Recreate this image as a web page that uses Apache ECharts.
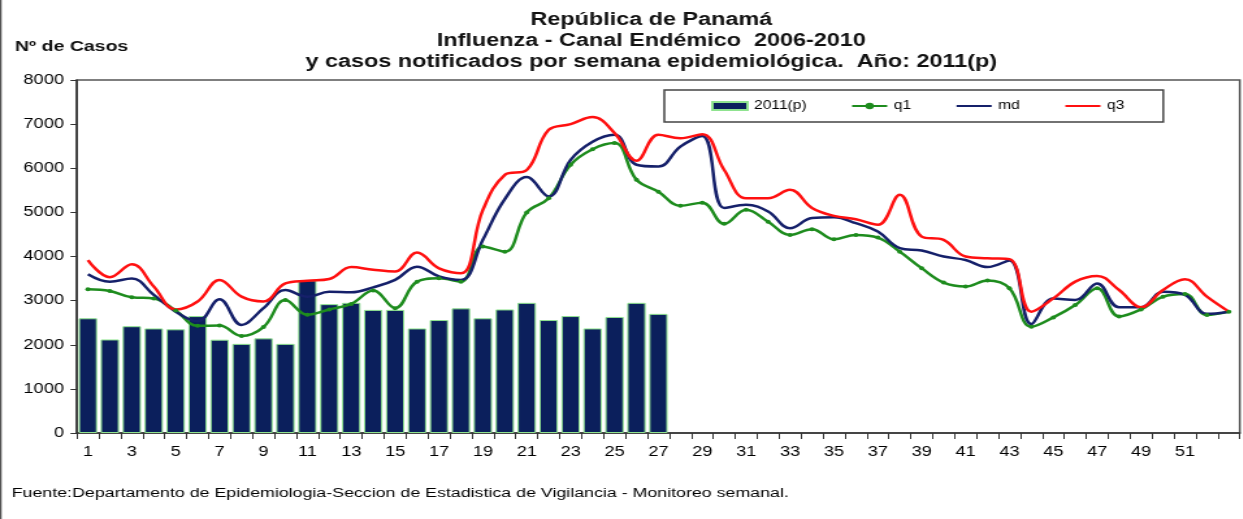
<!DOCTYPE html>
<html>
<head>
<meta charset="utf-8">
<script src="https://cdn.jsdelivr.net/npm/echarts@6/dist/echarts.min.js"></script>
<style>
  html, body { margin: 0; padding: 0; background: #fff; overflow: hidden; }
  /* el grafico original viene estirado a lo ancho (~1.3x), lo imitamos igual */
  #chart { width: 956px; height: 519px; transform: scaleX(1.3); transform-origin: 0 0; }
</style>
</head>
<body>
<div id="chart"></div>
<script>
const semanas = ['1','2','3','4','5','6','7','8','9','10','11','12','13','14','15','16','17','18',
  '19','20','21','22','23','24','25','26','27','28','29','30','31','32','33','34','35','36',
  '37','38','39','40','41','42','43','44','45','46','47','48','49','50','51','52','53']

// casos notificados 2011 (p), semanas 1-27
const casos2011 = [2600, 2120, 2420, 2370, 2350, 2650, 2115, 2020, 2145, 2020, 3460, 2920, 2950,
  2790, 2790, 2370, 2560, 2825, 2600, 2800, 2950, 2560, 2650, 2370, 2630, 2950, 2700]

const q1 = [3260, 3220, 3075, 3050, 2775, 2430, 2435, 2200, 2400, 3015, 2680, 2800, 2925, 3230,
  2830, 3430, 3505, 3430, 4225, 4110, 5000, 5320, 6080, 6430, 6570, 5740, 5470, 5150, 5220, 4740,
  5060, 4790, 4490, 4620, 4390, 4490, 4430, 4110, 3735, 3410, 3320, 3455, 3280, 2410, 2620, 2900,
  3280, 2640, 2800, 3090, 3150, 2675, 2750]

const md = [3600, 3430, 3500, 3130, 2750, 2530, 3030, 2450, 2830, 3240, 3090, 3200, 3190, 3300,
  3470, 3770, 3550, 3470, 4380, 5300, 5800, 5360, 6190, 6600, 6760, 6080, 6040, 6490, 6730, 5100,
  5170, 5020, 4640, 4870, 4890, 4755, 4565, 4190, 4135, 4000, 3920, 3760, 3910, 2470, 3050, 3015,
  3390, 2850, 2850, 3200, 3130, 2700, 2750]

const q3 = [3920, 3530, 3825, 3320, 2800, 2980, 3470, 3090, 2980, 3390, 3450, 3490, 3760, 3700,
  3660, 4090, 3730, 3620, 5055, 5850, 5960, 6870, 7000, 7160, 6800, 6170, 6760, 6680, 6770, 5960,
  5320, 5320, 5510, 5100, 4920, 4845, 4720, 5400, 4450, 4375, 4000, 3960, 3940, 2750, 3050, 3430,
  3560, 3240, 2850, 3240, 3485, 3090, 2750]

const titulo = [
  'República de Panamá',
  'Influenza - Canal Endémico  2006-2010',
  'y casos notificados por semana epidemiológica.  Año: 2011(p)'
]
const fuente = 'Fuente:Departamento de Epidemiologia-Seccion de Estadistica de Vigilancia - Monitoreo semanal.'

const fontFamily = 'Arial, "Liberation Sans", sans-serif'

const chart = echarts.init(document.getElementById('chart'))

chart.setOption({
  animation: false,
  textStyle: { fontFamily: fontFamily, color: '#000' },
  graphic: [
    {
      type: 'line',
      shape: { x1: 0.5, y1: 0, x2: 0.5, y2: 519 },
      style: { stroke: '#555', lineWidth: 1.5 }
    },
    ...titulo.map((t, i) => ({
      type: 'text',
      style: {
        text: t,
        x: 501,
        y: 20 + i * 21,
        align: 'center',
        verticalAlign: 'middle',
        font: 'bold 18px ' + fontFamily,
        fill: '#111'
      }
    })),
    {
      type: 'text',
      style: {
        text: 'Nº de Casos',
        x: 11.5,
        y: 47,
        verticalAlign: 'middle',
        font: 'bold 15px ' + fontFamily,
        fill: '#111'
      }
    },
    {
      type: 'text',
      style: {
        text: fuente,
        x: 9,
        y: 493,
        verticalAlign: 'middle',
        font: '13.7px ' + fontFamily,
        fill: '#000'
      }
    }
  ],
  legend: {
    left: 511,
    top: 90,
    padding: [10, 30, 10, 36],
    itemGap: 34,
    itemWidth: 27,
    itemHeight: 8,
    borderColor: '#444',
    borderWidth: 1.5,
    textStyle: { fontSize: 12, color: '#000' },
    data: [
      { name: '2011(p)', icon: 'rect' },
      'q1',
      { name: 'md', itemStyle: { opacity: 0 } },
      { name: 'q3', itemStyle: { opacity: 0 } }
    ]
  },
  grid: {
    left: 59.2,
    right: 2.3,
    top: 80,
    bottom: 86,
    show: true,
    borderColor: '#555',
    borderWidth: 1.5
  },
  xAxis: {
    type: 'category',
    data: semanas,
    boundaryGap: true,
    axisLine: { lineStyle: { color: '#333', width: 1.5 } },
    axisTick: { show: true, interval: 0, length: 6, lineStyle: { color: '#333' } },
    axisLabel: {
      interval: (i) => i % 2 === 0 && i < 52,
      fontSize: 14,
      margin: 12,
      color: '#000'
    }
  },
  yAxis: {
    type: 'value',
    min: 0,
    max: 8000,
    interval: 1000,
    axisLine: { show: true, lineStyle: { color: '#333', width: 1.5 } },
    axisTick: { show: true, length: 5, lineStyle: { color: '#333' } },
    splitLine: { show: false },
    axisLabel: { fontSize: 14, margin: 10, color: '#000', formatter: (v) => String(v) }
  },
  series: [
    {
      name: '2011(p)',
      type: 'bar',
      data: casos2011,
      barCategoryGap: '16%',
      itemStyle: { color: '#0b1f5c', borderColor: '#8fe38f', borderWidth: 1 }
    },
    {
      name: 'q1',
      type: 'line',
      data: q1,
      smooth: 0.4,
      symbol: 'circle',
      symbolSize: 4,
      color: '#1e8c1e',
      lineStyle: { width: 2.5 },
      itemStyle: { color: '#1e8c1e' }
    },
    {
      name: 'md',
      type: 'line',
      data: md,
      smooth: 0.4,
      symbol: 'none',
      color: '#15206a',
      lineStyle: { width: 2.5 }
    },
    {
      name: 'q3',
      type: 'line',
      data: q3,
      smooth: 0.4,
      symbol: 'none',
      color: '#ff1010',
      lineStyle: { width: 2.5 }
    }
  ]
})
</script>
</body>
</html>
